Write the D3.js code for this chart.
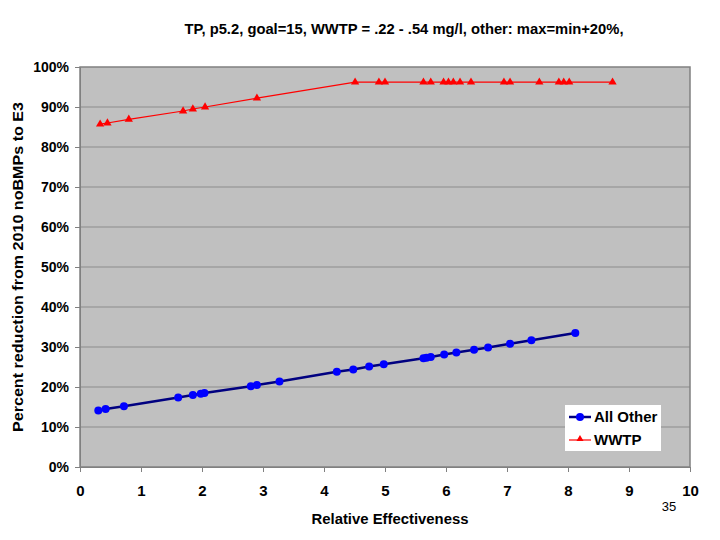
<!DOCTYPE html>
<html>
<head>
<meta charset="utf-8">
<script src="https://cdn.jsdelivr.net/npm/d3@7"></script>
<style>
    body { margin: 0; background: #fff; }
    text { font-family: "Liberation Sans", Arial, sans-serif; }
</style>
</head>
<body>
<div id="chart"></div>
<script>
// values
const otherX = [0.30, 0.42, 0.72, 1.61, 1.85, 1.98, 2.04, 2.80, 2.90, 3.27, 4.21, 4.48, 4.74, 4.98,
    5.63, 5.68, 5.75, 5.97, 6.17, 6.46, 6.69, 7.05, 7.40, 8.12]
const otherY = [14.1, 14.5, 15.2, 17.4, 18.0, 18.3, 18.5, 20.2, 20.5, 21.4, 23.8, 24.4, 25.1, 25.7,
    27.2, 27.3, 27.5, 28.1, 28.6, 29.3, 29.9, 30.8, 31.7, 33.5]

const wwtpX = [0.33, 0.45, 0.80, 1.69, 1.85, 2.05, 2.90, 4.51, 4.90, 5.00, 5.63, 5.75, 5.96, 6.04,
    6.12, 6.23, 6.41, 6.95, 7.05, 7.53, 7.85, 7.93, 8.02, 8.73]
const wwtpY = [85.7, 86.0, 86.9, 89.0, 89.5, 90.0, 92.2, 96.2, 96.2, 96.2, 96.2, 96.2, 96.2, 96.2,
    96.2, 96.2, 96.2, 96.2, 96.2, 96.2, 96.2, 96.2, 96.2, 96.2]

const xTicks = [0, 1, 2, 3, 4, 5, 6, 7, 8, 9, 10]
const yTicks = [0, 10, 20, 30, 40, 50, 60, 70, 80, 90, 100]
const seriesNames = ['All Other', 'WWTP']

const chart_width = 720
const chart_height = 540
const pLeft = 80, pRight = 690, pTop = 67, pBottom = 467

var svg = d3.select('#chart')
    .append('svg')
    .attr('width', chart_width)
    .attr('height', chart_height)

var x_scale = d3.scaleLinear().domain([0, 10]).range([pLeft, pRight])
var y_scale = d3.scaleLinear().domain([0, 100]).range([pBottom, pTop])

// plot background
svg.append('rect')
    .attr('x', pLeft).attr('y', pTop)
    .attr('width', pRight - pLeft).attr('height', pBottom - pTop)
    .attr('fill', '#c0c0c0')

// gridlines
svg.append('g')
    .selectAll('line')
    .data(yTicks.slice(1, -1))
    .enter()
    .append('line')
    .attr('x1', pLeft).attr('x2', pRight)
    .attr('y1', d => y_scale(d)).attr('y2', d => y_scale(d))
    .attr('stroke', '#8c8c8c')
    .attr('stroke-width', 1)

svg.append('rect')
    .attr('x', pLeft).attr('y', pTop)
    .attr('width', pRight - pLeft).attr('height', pBottom - pTop)
    .attr('fill', 'none')
    .attr('stroke', '#808080')
    .attr('stroke-width', 1.5)

// axes
var x_axis = d3.axisBottom(x_scale)
    .tickValues(xTicks)
    .tickSize(5)
    .tickPadding(13)
    .tickFormat(d3.format('d'))
var gx = svg.append('g')
    .attr('transform', 'translate(0,' + pBottom + ')')
    .call(x_axis)
gx.select('.domain').attr('stroke', '#808080')
gx.selectAll('.tick line').attr('stroke', '#808080')
gx.selectAll('text')
    .attr('font-size', 15).attr('font-weight', 'bold').attr('fill', '#000')

var y_axis = d3.axisLeft(y_scale)
    .tickValues(yTicks)
    .tickSize(5)
    .tickPadding(6)
    .tickFormat(d => d + '%')
var gy = svg.append('g')
    .attr('transform', 'translate(' + pLeft + ',0)')
    .call(y_axis)
gy.select('.domain').attr('stroke', '#808080')
gy.selectAll('.tick line').attr('stroke', '#808080')
gy.selectAll('text')
    .attr('font-size', 14).attr('font-weight', 'bold').attr('fill', '#000')

// series
var otherData = otherX.map((x, i) => [x, otherY[i]])
var wwtpData = wwtpX.map((x, i) => [x, wwtpY[i]])

var line = d3.line()
    .x(d => x_scale(d[0]))
    .y(d => y_scale(d[1]))

svg.append('path')
    .datum(wwtpData)
    .attr('d', line)
    .attr('fill', 'none')
    .attr('stroke', '#ff0000')
    .attr('stroke-width', 1.2)

var tri = d3.symbol().type(d3.symbolTriangle).size(30)
svg.append('g')
    .selectAll('path')
    .data(wwtpData)
    .enter()
    .append('path')
    .attr('d', tri)
    .attr('transform', d => 'translate(' + x_scale(d[0]) + ',' + y_scale(d[1]) + ')')
    .attr('fill', '#ff0000')

svg.append('path')
    .datum(otherData)
    .attr('d', line)
    .attr('fill', 'none')
    .attr('stroke', '#000080')
    .attr('stroke-width', 2.5)

svg.append('g')
    .selectAll('circle')
    .data(otherData)
    .enter()
    .append('circle')
    .attr('cx', d => x_scale(d[0]))
    .attr('cy', d => y_scale(d[1]))
    .attr('r', 4)
    .attr('fill', '#0000ff')

// legend
var lg = svg.append('g').attr('transform', 'translate(565,405)')
lg.append('rect')
    .attr('width', 96).attr('height', 46)
    .attr('fill', '#fff')
lg.append('line')
    .attr('x1', 4).attr('x2', 26).attr('y1', 12).attr('y2', 12)
    .attr('stroke', '#000080').attr('stroke-width', 2.5)
lg.append('circle')
    .attr('cx', 15).attr('cy', 12).attr('r', 4).attr('fill', '#0000ff')
lg.append('line')
    .attr('x1', 4).attr('x2', 26).attr('y1', 35).attr('y2', 35)
    .attr('stroke', '#ff0000').attr('stroke-width', 1.2)
lg.append('path')
    .attr('d', d3.symbol().type(d3.symbolTriangle).size(22))
    .attr('transform', 'translate(15,34)')
    .attr('fill', '#ff0000')
lg.selectAll('text.leg')
    .data(seriesNames)
    .enter()
    .append('text')
    .attr('class', 'leg')
    .attr('x', 29)
    .attr('y', (d, i) => 17 + i * 23)
    .attr('font-size', 15)
    .attr('font-weight', 'bold')
    .text(d => d)

// titles
svg.append('text')
    .attr('x', 404).attr('y', 34)
    .attr('text-anchor', 'middle')
    .attr('font-size', 14).attr('font-weight', 'bold')
    .attr('textLength', 439).attr('lengthAdjust', 'spacingAndGlyphs')
    .text('TP, p5.2, goal=15, WWTP = .22 - .54 mg/l, other: max=min+20%,')

svg.append('text')
    .attr('x', 390).attr('y', 524)
    .attr('text-anchor', 'middle')
    .attr('font-size', 14).attr('font-weight', 'bold')
    .attr('textLength', 157).attr('lengthAdjust', 'spacingAndGlyphs')
    .text('Relative Effectiveness')

svg.append('text')
    .attr('transform', 'translate(23,267) rotate(-90)')
    .attr('text-anchor', 'middle')
    .attr('font-size', 14).attr('font-weight', 'bold')
    .attr('textLength', 330).attr('lengthAdjust', 'spacingAndGlyphs')
    .text('Percent reduction from 2010 noBMPs to E3')

svg.append('text')
    .attr('x', 669).attr('y', 511)
    .attr('text-anchor', 'middle')
    .attr('font-size', 13)
    .text('35')
</script>
</body>
</html>
